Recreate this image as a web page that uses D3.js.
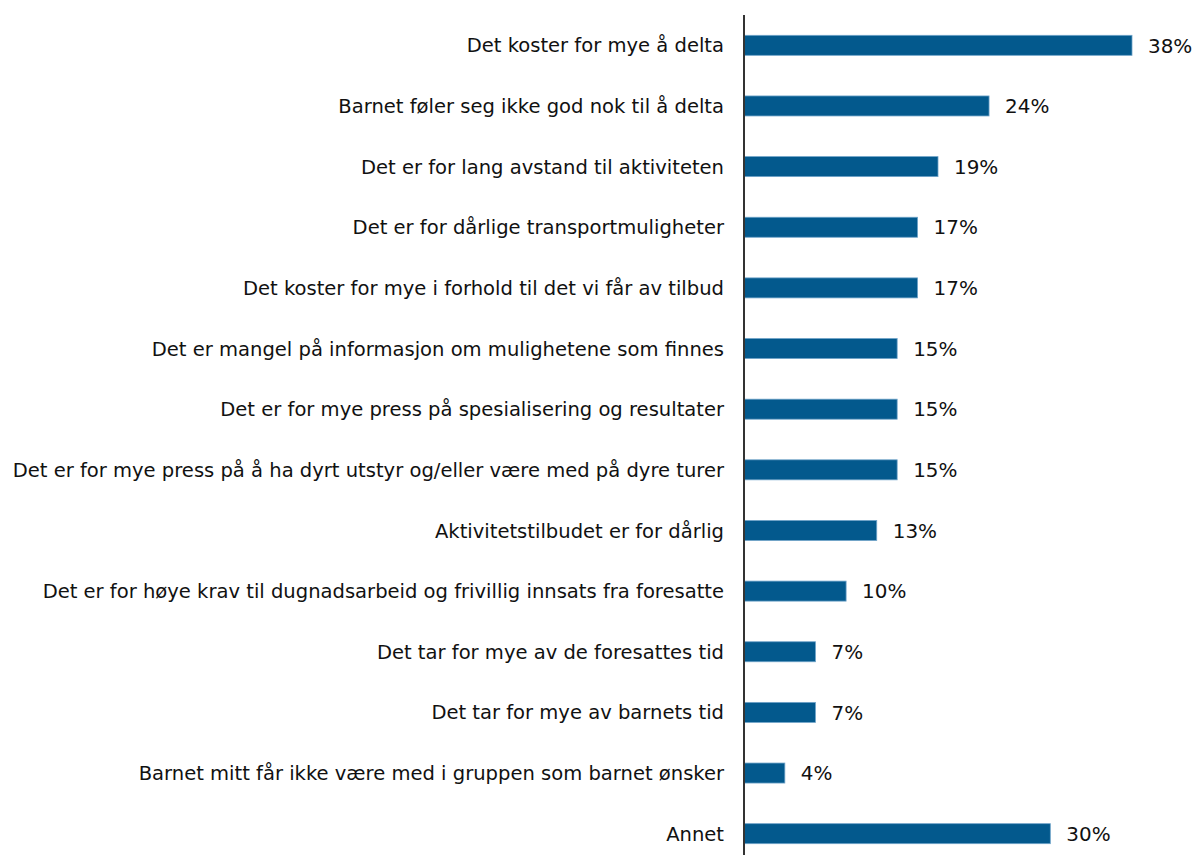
<!DOCTYPE html>
<html>
<head>
<meta charset="utf-8">
<script src="https://cdn.jsdelivr.net/npm/d3@7"></script>
<style>
html, body { margin: 0; padding: 0; background: #fff; }
svg { display: block; }
text { font-family: "DejaVu Sans", sans-serif; fill: #111; }
</style>
</head>
<body>
<svg id="chart" width="1197" height="855"></svg>
<script>
const categories = [
  "Det koster for mye å delta",
  "Barnet føler seg ikke god nok til å delta",
  "Det er for lang avstand til aktiviteten",
  "Det er for dårlige transportmuligheter",
  "Det koster for mye i forhold til det vi får av tilbud",
  "Det er mangel på informasjon om mulighetene som finnes",
  "Det er for mye press på spesialisering og resultater",
  "Det er for mye press på å ha dyrt utstyr og/eller være med på dyre turer",
  "Aktivitetstilbudet er for dårlig",
  "Det er for høye krav til dugnadsarbeid og frivillig innsats fra foresatte",
  "Det tar for mye av de foresattes tid",
  "Det tar for mye av barnets tid",
  "Barnet mitt får ikke være med i gruppen som barnet ønsker",
  "Annet"
];
const values = [38, 24, 19, 17, 17, 15, 15, 15, 13, 10, 7, 7, 4, 30];
const valueLabels = ["38%", "24%", "19%", "17%", "17%", "15%", "15%", "15%", "13%", "10%", "7%", "7%", "4%", "30%"];

const svg = d3.select("#chart");
const x0 = 744;
const x = d3.scaleLinear().domain([0, 38]).range([x0, 1132]);
const y = d3.scaleBand().domain(categories).range([15, 864]).paddingInner(0.67).paddingOuter(0.335);

const g = svg.append("g");

g.selectAll("rect.bar").data(categories).join("rect")
  .attr("class", "bar")
  .attr("x", x0)
  .attr("y", d => y(d))
  .attr("width", (d, i) => x(values[i]) - x0)
  .attr("height", y.bandwidth())
  .attr("fill", "#03598d")
  .attr("stroke", "#6fa3c9")
  .attr("stroke-width", 0.8);

const cats = g.selectAll("text.cat").data(categories).join("text")
  .attr("class", "cat")
  .attr("x", 724)
  .attr("y", d => y(d) + y.bandwidth() / 2)
  .attr("dy", "0.36em")
  .attr("text-anchor", "end")
  .attr("font-size", 18)
  .text(d => d);

// fit font size so the longest label spans the same width as in the reference
let maxW = 0;
cats.each(function () { maxW = Math.max(maxW, this.getComputedTextLength()); });
const fs = 18 * 712 / maxW;
cats.attr("font-size", fs);

g.selectAll("text.val").data(categories).join("text")
  .attr("class", "val")
  .attr("x", (d, i) => x(values[i]) + 16)
  .attr("y", d => y(d) + y.bandwidth() / 2)
  .attr("dy", "0.36em")
  .attr("font-size", fs * 1.02)
  .text((d, i) => valueLabels[i]);

svg.append("line")
  .attr("x1", x0).attr("x2", x0)
  .attr("y1", 15).attr("y2", 855)
  .attr("stroke", "#333").attr("stroke-width", 2);
</script>
</body>
</html>
